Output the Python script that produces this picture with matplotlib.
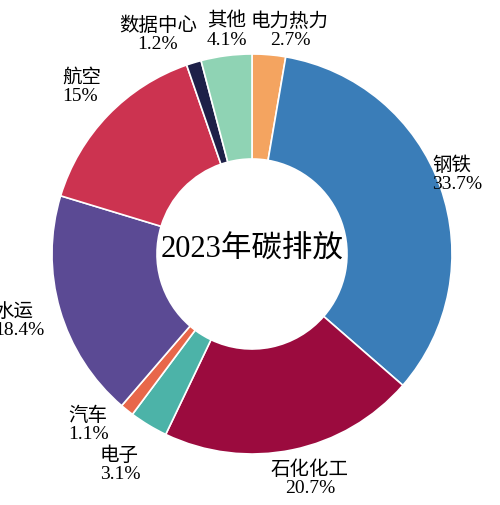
import matplotlib
matplotlib.use("Agg")
import matplotlib.pyplot as plt

plt.rcParams['font.family'] = ['Liberation Serif', 'Noto Sans CJK SC']

categories = ['电力热力', '钢铁', '石化化工', '电子', '汽车', '水运', '航空', '数据中心', '其他']
values = [2.7, 33.7, 20.7, 3.1, 1.1, 18.4, 15, 1.2, 4.1]
labels_pct = ['2.7%', '33.7%', '20.7%', '3.1%', '1.1%', '18.4%', '15%', '1.2%', '4.1%']
colors = ['#f4a460', '#3a7db8', '#9b0b3e', '#4cb3a8', '#e8674a', '#5b4a94', '#cc3350', '#1e2048', '#8fd3b4']

fig = plt.figure(figsize=(5, 5.06), dpi=100)
ax = fig.add_axes([0, 0, 1, 1])
wedges, _ = ax.pie(values, colors=colors, startangle=90, counterclock=False,
                   wedgeprops=dict(width=0.525, edgecolor='white', linewidth=1.2))
ax.set_xlim(-1.26, 1.24)
ax.set_ylim(-1.255, 1.275)
ax.set_aspect('auto')
ax.axis('off')

label_pos = {'电力热力': (0.19, 1.12), '钢铁': (1.1, 0.4), '石化化工': (0.29, -1.12),
             '电子': (-0.65, -1.05), '汽车': (-0.79, -0.85), '水运': (-1.09, -0.33),
             '航空': (-0.84, 0.84), '数据中心': (-0.47, 1.1), '其他': (-0.125, 1.12)}
for c, p in zip(categories, labels_pct):
    x, y = label_pos[c]
    ha = 'left' if c in ('航空', '水运', '汽车', '电子', '钢铁') else 'center'
    if ha == 'left':
        x -= {'航空': 0.11, '水运': 0.2, '汽车': 0.13, '电子': 0.11, '钢铁': 0.2}[c]
    ax.text(x, y, c + '\n' + p, ha=ha, va='center', fontsize=14, linespacing=1.1)

ax.text(0, 0.03, '2023年碳排放', ha='center', va='center', fontsize=22)
fig.savefig('out.png', dpi=100, facecolor='white')
